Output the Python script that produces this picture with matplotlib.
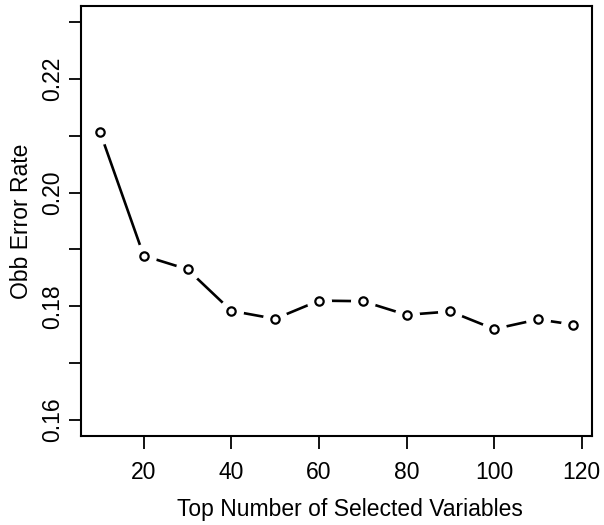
import matplotlib
matplotlib.use("Agg")
import matplotlib.pyplot as plt

# --- data ---
n_vars = [10, 20, 30, 40, 50, 60, 70, 80, 90, 100, 110, 118]
oob_err = [0.2107, 0.1889, 0.1865, 0.1792, 0.1778, 0.1810,
           0.1809, 0.1785, 0.1791, 0.1760, 0.1777, 0.1768]
x_ticks = [20, 40, 60, 80, 100, 120]
y_ticks = [0.16, 0.17, 0.18, 0.19, 0.20, 0.21, 0.22, 0.23]
y_labels = ["0.16", "", "0.18", "", "0.20", "", "0.22", ""]

plt.rcParams["font.family"] = ["Liberation Sans", "DejaVu Sans"]

fig = plt.figure(figsize=(6.04, 5.25), dpi=100)
ax = fig.add_axes([0.1341, 0.1695, 0.8459, 0.8191])

# R type="b": line segments with gaps around the points
ax.plot(n_vars, oob_err, color="black", linewidth=1.9, zorder=1)
ax.plot(n_vars, oob_err, linestyle="none", marker="o", markersize=17,
        markerfacecolor="white", markeredgecolor="white", zorder=2)
ax.plot(n_vars, oob_err, linestyle="none", marker="o", markersize=6,
        markerfacecolor="white", markeredgecolor="black",
        markeredgewidth=1.6, zorder=3)

ax.set_xlim(5.68, 122.32)
ax.set_ylim(0.1572, 0.2328)
ax.set_xticks(x_ticks)
ax.set_yticks(y_ticks)
ax.set_yticklabels(y_labels, rotation=90, va="center")
ax.tick_params(axis="both", labelsize=16.5, length=9, width=1.3,
               direction="out")
ax.tick_params(axis="x", pad=9)
ax.tick_params(axis="y", pad=3)

for s in ax.spines.values():
    s.set_linewidth(1.5)

ax.set_xlabel("Top Number of Selected Variables", fontsize=16.5)
ax.xaxis.set_label_coords(0.527, -0.143)
ax.set_ylabel("Obb Error Rate", fontsize=16.5, labelpad=6)

fig.savefig("out.png", dpi=100)
